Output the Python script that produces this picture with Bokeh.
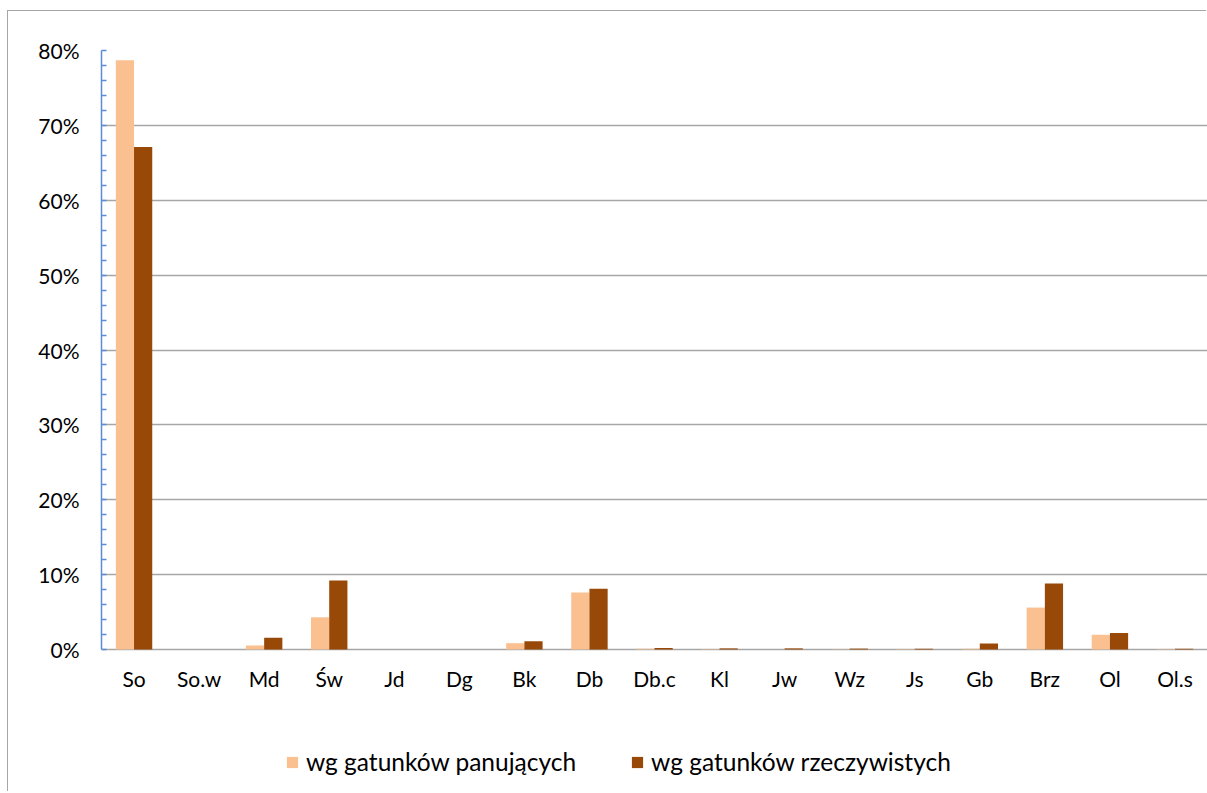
from bokeh.plotting import figure
from bokeh.models import (Range1d, FixedTicker, NumeralTickFormatter,
                          Legend, LegendItem, ColumnDataSource)
from bokeh.transform import dodge
from bokeh.embed import file_html
from bokeh.resources import INLINE

categories = ["So", "So.w", "Md", "Św", "Jd", "Dg", "Bk", "Db", "Db.c", "Kl",
              "Jw", "Wz", "Js", "Gb", "Brz", "Ol", "Ol.s"]
panujace_pct = [78.7, 0.0, 0.54, 4.3, 0.0, 0.0, 0.84, 7.6, 0.1, 0.05,
                0.0, 0.03, 0.05, 0.1, 5.6, 1.97, 0.05]
rzeczywiste_pct = [67.1, 0.0, 1.57, 9.2, 0.0, 0.0, 1.1, 8.1, 0.2, 0.15,
                   0.15, 0.12, 0.1, 0.8, 8.8, 2.2, 0.1]
series_names = ["wg gatunków panujących", "wg gatunków rzeczywistych"]
y_major_ticks = [0.0, 0.1, 0.2, 0.3, 0.4, 0.5, 0.6, 0.7, 0.8]

LIGHT = "#FAC090"
DARK = "#984807"
FONT = "Lato"
AXIS_BLUE = "#5A8CD7"

# layout (pixels)
H = 781
TOP = 39
PLOT_PX = 599          # 0 .. 80 %
BELOW_PX = H - TOP - PLOT_PX
y_top = y_major_ticks[-1]
y_bottom = -y_top * BELOW_PX / PLOT_PX

source = ColumnDataSource(dict(
    cat=categories,
    pan=[v / 100 for v in panujace_pct],
    rze=[v / 100 for v in rzeczywiste_pct],
))

p = figure(width=1199, height=H, x_range=categories,
           y_range=Range1d(y_bottom, y_top),
           output_backend="svg", toolbar_location=None,
           min_border_left=93, min_border_top=TOP, min_border_bottom=0,
           min_border_right=0)
p.margin = (11, 0, 0, 8)
p.styles = {"box-shadow": "-1px -1px 0 0 #A6A6A6"}
p.outline_line_color = None
p.background_fill_color = "white"
p.border_fill_color = "white"

r1 = p.vbar(x=dodge("cat", -0.14, range=p.x_range), top="pan", width=0.28,
            source=source, fill_color=LIGHT, line_color=None)
r2 = p.vbar(x=dodge("cat", 0.14, range=p.x_range), top="rze", width=0.28,
            source=source, fill_color=DARK, line_color=None)

minor = [round(t + k * 0.02, 4) for t in y_major_ticks[:-1] for k in range(1, 5)]
ticker = FixedTicker(ticks=y_major_ticks, minor_ticks=minor)

# grid
p.xgrid.grid_line_color = None
p.ygrid.ticker = ticker
p.ygrid.grid_line_color = "#A6A6A6"
p.ygrid.grid_line_width = 1.5

# y axis
yax = p.yaxis[0]
yax.ticker = ticker
yax.bounds = (0, y_top)
yax.formatter = NumeralTickFormatter(format="0%")
yax.axis_line_color = AXIS_BLUE
yax.axis_line_width = 1.5
yax.major_tick_line_color = AXIS_BLUE
yax.minor_tick_line_color = AXIS_BLUE
yax.major_tick_line_width = 1.5
yax.minor_tick_line_width = 1.5
yax.major_tick_in = 5
yax.major_tick_out = 0
yax.minor_tick_in = 5
yax.minor_tick_out = 0
yax.major_label_standoff = 22
yax.major_label_text_font = FONT
yax.major_label_text_font_size = "21px"
yax.major_label_text_color = "#000000"

# x axis sits on the 0 line
xax = p.xaxis[0]
xax.fixed_location = 0
xax.axis_line_color = None
xax.major_tick_line_color = None
xax.minor_tick_line_color = None
xax.major_label_standoff = 10
xax.major_label_text_font = FONT
xax.major_label_text_font_size = "21px"
xax.major_label_text_color = "#000000"

legend = Legend(items=[LegendItem(label=series_names[0], renderers=[r1]),
                       LegendItem(label=series_names[1], renderers=[r2])],
                location=(184, 16), orientation="horizontal",
                padding=0, margin=0, spacing=54, border_line_color=None,
                background_fill_alpha=0,
                glyph_width=14, glyph_height=14, label_standoff=7,
                label_text_font=FONT, label_text_font_size="24.5px",
                label_text_color="#000000")
p.add_layout(legend, "center")

open("out.html", "w").write(file_html(p, INLINE))
